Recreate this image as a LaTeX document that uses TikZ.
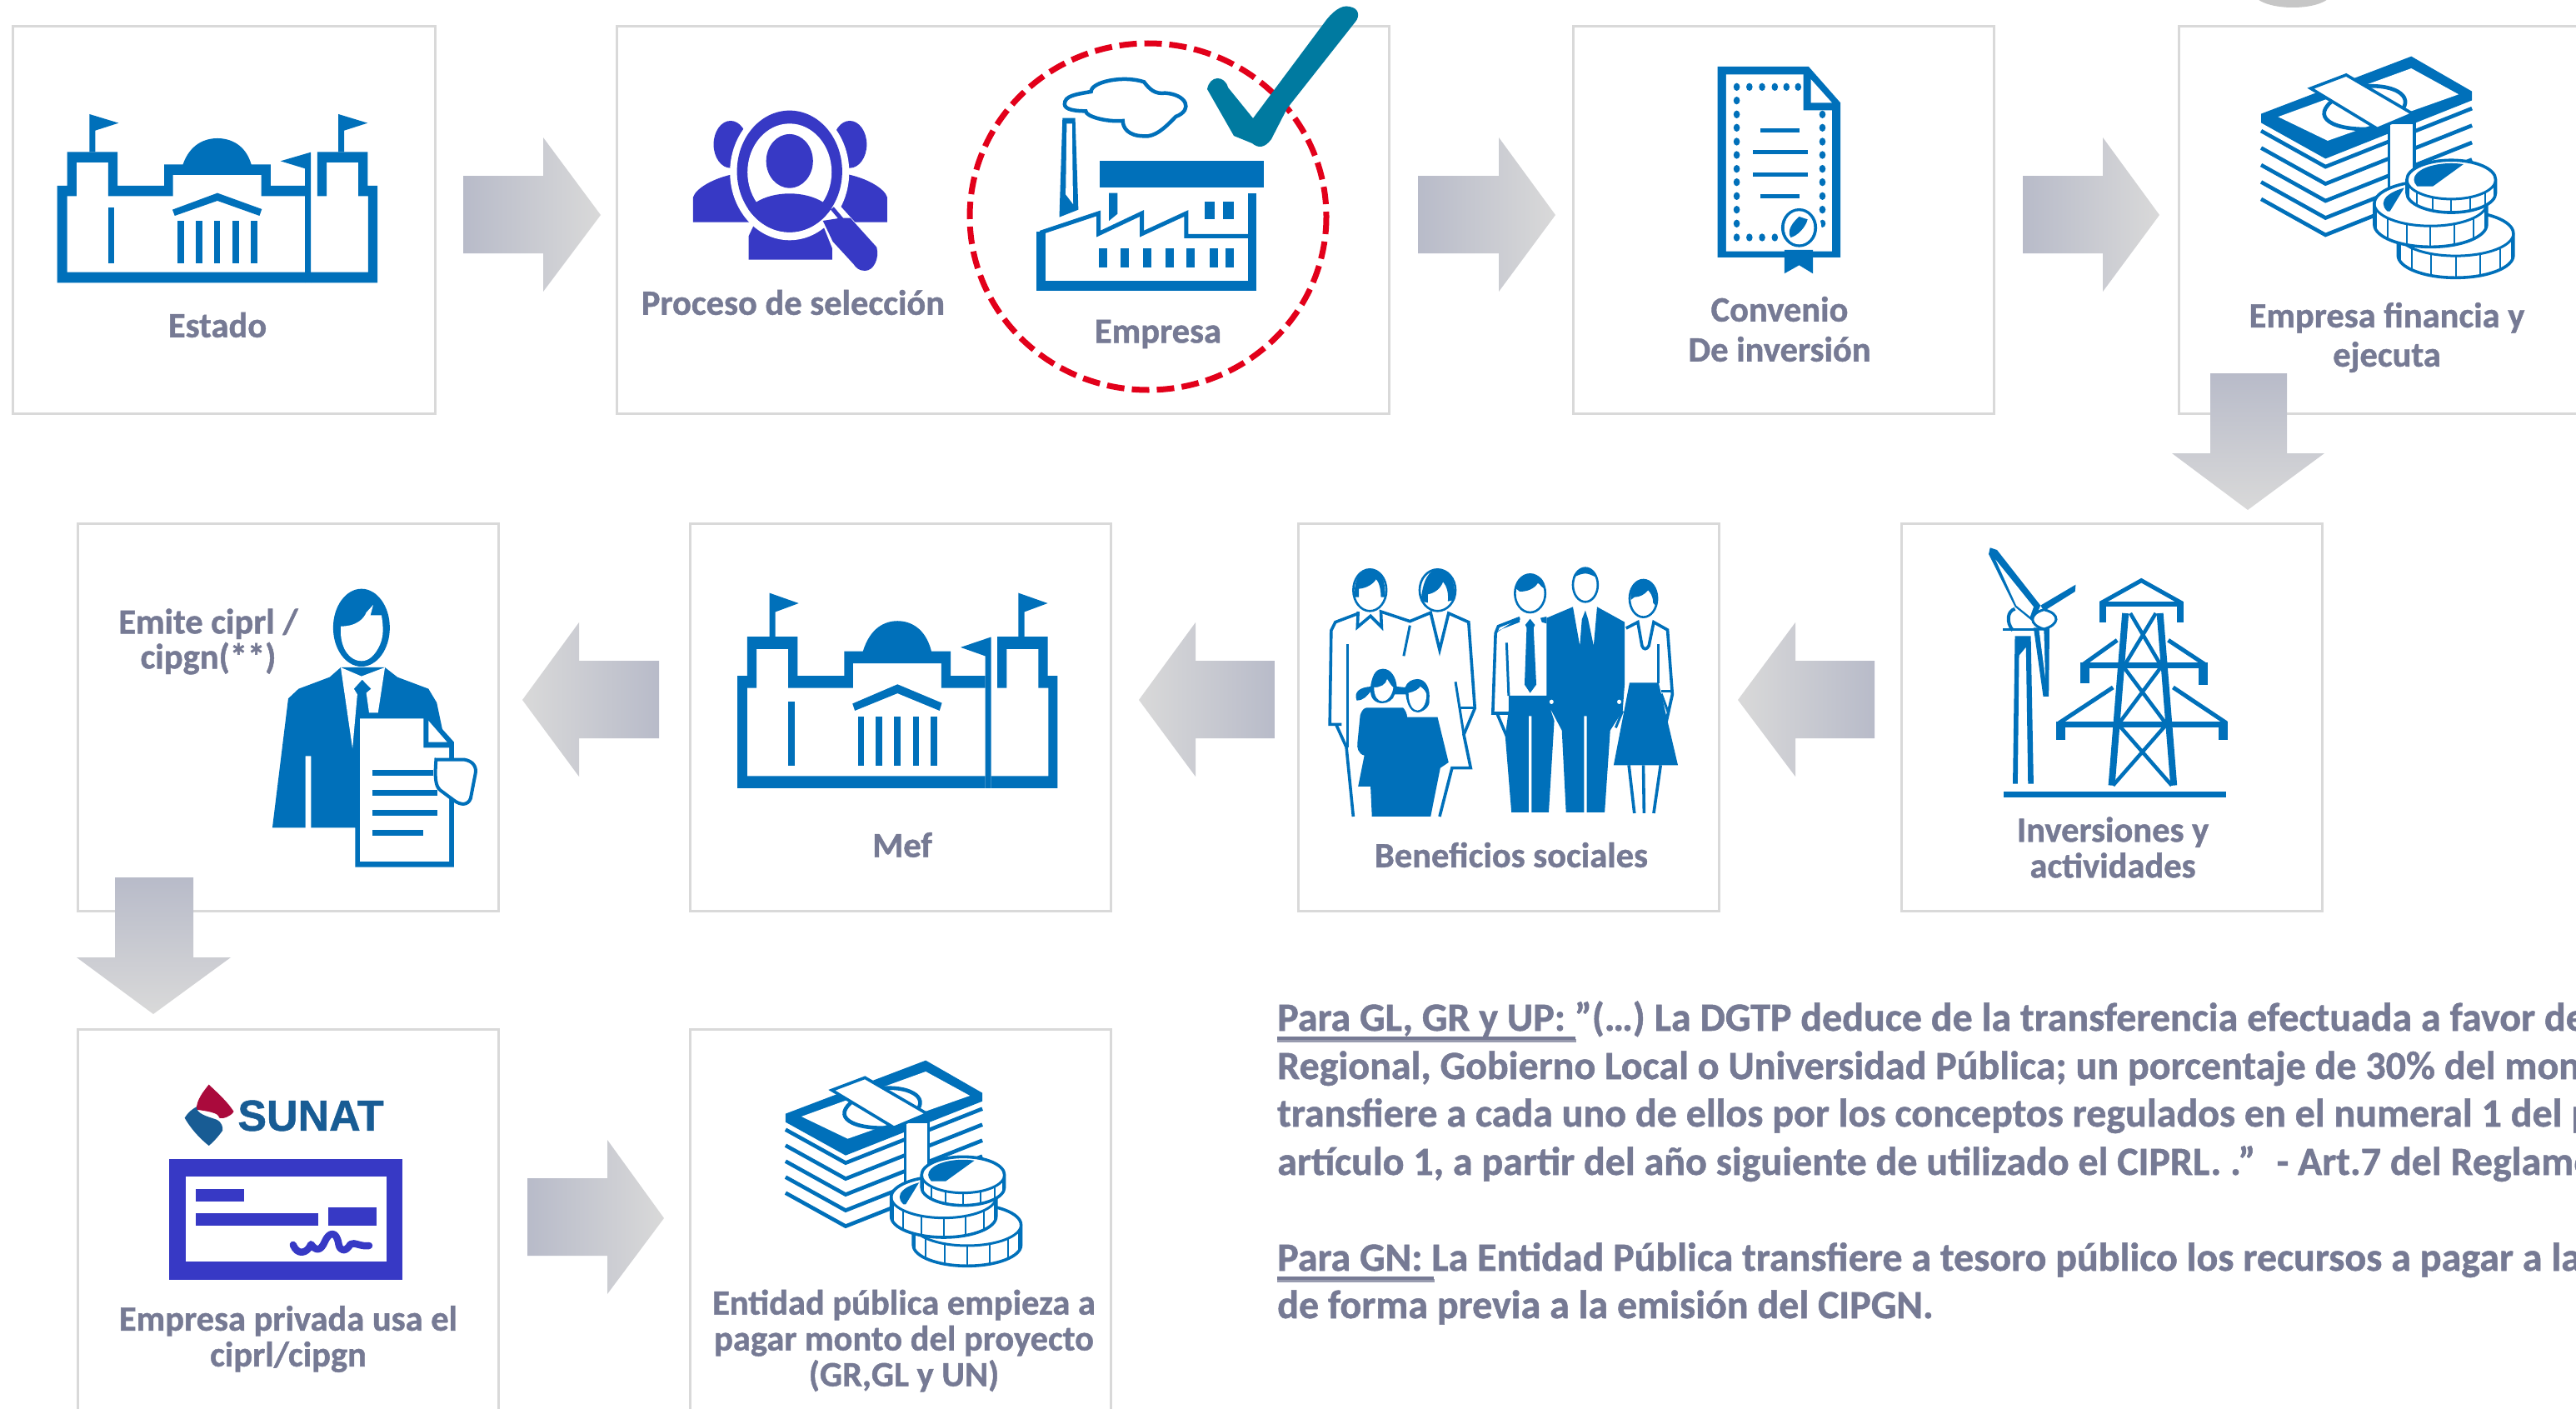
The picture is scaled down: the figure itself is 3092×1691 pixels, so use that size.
\documentclass[tikz,border=0pt]{standalone}
\usepackage{fontspec}
\setmainfont{Carlito}[BoldFeatures={FakeBold=1}]
\newfontfamily\logofont{Liberation Sans}[BoldFeatures={FakeBold=1}]
\usetikzlibrary{calc}
\definecolor{icon}{RGB}{0,112,186}
\definecolor{violetb}{RGB}{55,57,197}
\definecolor{txt}{RGB}{118,122,148}
\definecolor{gra}{RGB}{184,187,201}
\definecolor{grb}{RGB}{217,217,217}
\definecolor{boxl}{RGB}{217,217,217}
\definecolor{redd}{RGB}{226,0,26}
\definecolor{tick}{RGB}{0,122,160}
\definecolor{sunatb}{RGB}{24,92,148}
\definecolor{sunatr}{RGB}{170,10,60}
\tikzset{
  cardbox/.style={draw=boxl,line width=2.6pt,fill=white,inner sep=0pt,anchor=north west,minimum height=465pt},
  lab/.style={font=\fontsize{42.5}{43}\selectfont\bfseries,text=txt,align=center,inner sep=0pt},
  para/.style={font=\fontsize{48}{50}\selectfont\bfseries,text=txt,anchor=base west,inner sep=0pt},
  arR/.style={left color=gra,right color=grb},
  arL/.style={left color=grb,right color=gra},
  arD/.style={top color=gra,bottom color=grb},
  th/.style={line width=#1pt,draw=icon,line cap=butt,line join=miter}
}
\newcommand{\iconbuilding}{%
  \fill[icon] (98,1018)--(98,669)--(115,669)--(115,547)--(201,547)--(201,669)--(281,669)--(281,592)--(313,592)
    .. controls (325,520) and (350,498) .. (372,498) .. controls (394,498) and (420,520) .. (430,592)
    --(463,592)--(463,669)--(522,669)--(522,706)--(447,706)--(447,630)--(296,630)--(296,706)--(185,706)--(185,585)--(131,585)--(131,706)--(115,706)--(115,980)--(522,980)--(522,1018)--cycle;
  \fill[icon] (522,607)--(522,1018)--(532,1018)--(532,548)--(480,580)--cycle;
  \fill[icon] (532,1018)--(646,1018)--(646,669)--(629,669)--(629,547)--(543,547)--(543,706)--(559,706)--(559,585)--(613,585)--(613,706)--(630,706)--(630,980)--(532,980)--cycle;
  \fill[icon] (153,547)--(153,411)--(203,443)--(163,470)--(163,547)--cycle;
  \fill[icon] (579,547)--(579,411)--(629,443)--(589,470)--(589,547)--cycle;
  \fill[icon] (295,755)--(372,695)--(448,753)--(444,777)--(372,723)--(299,777)--cycle;
  \foreach \x in {304,335,366,398,429}{\fill[icon] (\x,795) rectangle ++(11,153);}
  \fill[icon] (185,748) rectangle (196,948);
}
\newcommand{\iconcoin}[7]{% cx cy rx ry h sectorx sectory
  \path[fill=white,draw=icon,line width=3.6pt] ({#1-#3},#2)--({#1-#3},{#2+#5}) arc[start angle=180,end angle=0,x radius=#3,y radius=#4]--({#1+#3},#2) arc[start angle=0,end angle=-180,x radius=#3,y radius=#4]--cycle;
  \draw[icon,line width=3pt] ({#1-#3},#2) arc[start angle=180,end angle=0,x radius=#3,y radius=#4];
  \foreach \a in {15,40,65,90,115,140,165}{\draw[icon,line width=2pt] ({#1+#3*cos(\a)},{#2+#4*sin(\a)+3}) -- ({#1+#3*cos(\a)},{#2+#5+#4*sin(\a)-3});}
  \begin{scope}
    \clip (#1,#2) ellipse[x radius={#3*0.84},y radius={#4*0.84}];
    \fill[icon] ({#1-#3},{#2-#4})--({#1+#6},{#2-#4})--({#1+#7},{#2+#4*0.35})--({#1-#3},{#2+#4*0.35})--cycle;
  \end{scope}
}
\newcommand{\iconmoney}{%
  \foreach \k in {1,...,5}{\draw[th=4.6] ($(1065,410)+(0,57*\k)$)--($(1152,530)+(0,57*\k)$)--($(1350,335)+(0,57*\k)$);}
  \fill[icon] (1065,410)--(1268,218)--(1350,335)--(1350,365)--(1152,560)--(1065,440)--cycle;
  \fill[white] (1088,420)--(1268,258)--(1332,345)--(1155,500)--cycle;
  \draw[th=4.6] (1165,360) .. controls (1130,420) and (1160,470) .. (1222,460);
  \draw[th=4.6] (1205,318) .. controls (1250,310) and (1275,360) .. (1250,410);
  \path[fill=white,draw=icon,line width=3.6pt] (1238,440) rectangle (1272,660);
  \path[fill=white,draw=icon,line width=3.6pt] (1132,325)--(1180,280)--(1270,410)--(1222,460)--cycle;
  \iconcoin{1328}{810}{78}{75}{73}{30}{-5}
  \iconcoin{1294}{710}{76}{75}{70}{-30}{-55}
  \iconcoin{1322}{630}{60}{65}{45}{24}{-25}
}
\begin{document}
\begin{tikzpicture}[x=1pt,y=-1pt]
\useasboundingbox (0,0) rectangle (3092,1691);
\clip (0,0) rectangle (3092,1691);
\fill[white] (0,0) rectangle (3092,1691);
% decorative spot at top edge
\fill[gray!45] (2752,-8) ellipse[x radius=46,y radius=17];
% cards
\node[cardbox,minimum width=507pt] (estado) at (14,30) {};
\node[cardbox,minimum width=927pt] (proceso) at (739,30) {};
\node[cardbox,minimum width=505pt] (convenio) at (1887,30) {};
\node[cardbox,minimum width=520pt] (financia) at (2614,30) {};
\node[cardbox,minimum width=505pt] (inversion) at (2281,627) {};
\node[cardbox,minimum width=505pt] (beneficios) at (1557,627) {};
\node[cardbox,minimum width=505pt] (mef) at (827,627) {};
\node[cardbox,minimum width=505pt] (emite) at (92,627) {};
\node[cardbox,minimum width=505pt] (sunat) at (92,1234) {};
\node[cardbox,minimum width=505pt] (entidad) at (827,1234) {};
% Estado building
\begin{scope}[xscale=0.7015,yscale=0.3333]\iconbuilding\end{scope}
% Mef building
\begin{scope}[shift={(816.3,553)},xscale=0.7015,yscale=0.386]\iconbuilding\end{scope}
% Search icon
\begin{scope}[xscale=0.7015,yscale=0.3333]
  \foreach \m in {0,1}{
    \begin{scope}[shift={(\m*2704,0)},xscale={1-2*\m}]
      \fill[violetb] (1250,520) ellipse[x radius=29,y radius=85];
      \fill[violetb] (1186,800)--(1186,710) .. controls (1190,680) and (1220,640) .. (1260,625)--(1300,625)--(1300,800)--cycle;
    \end{scope}}
  \fill[violetb] (1281,935)--(1281,850)--(1290,810)--(1415,810)--(1424,850)--(1424,935)--cycle;
  \fill[white] (1351,620) ellipse[x radius=102,y radius=245];
  \draw[white,line width=18pt] (1424,750)--(1480,880);
  \draw[white,line width=18pt] (1420,800)--(1440,905);
  \fill[violetb] (1351,617) ellipse[x radius=90,y radius=219];
  \fill[white] (1351,620) ellipse[x radius=72,y radius=175];
  \fill[violetb] (1351,580) ellipse[x radius=40,y radius=97];
  \begin{scope}
    \clip (1351,617) ellipse[x radius=90,y radius=219];
    \fill[violetb] (1351,800) ellipse[x radius=80,y radius=103];
  \end{scope}
  \draw[violetb,line width=5pt] (1424,750)--(1440,790);
  \fill[violetb] (1438,785)--(1455,785)--(1500,890) .. controls (1505,930) and (1495,975) .. (1480,975) .. controls (1470,975) and (1465,965) .. (1460,950)--(1425,870)--(1408,795)--cycle;
\end{scope}
% Factory
\begin{scope}[shift={(1100,0)},xscale=1.2704,yscale=0.3333]
  \fill[icon] (113,1010) rectangle (321,1047);
  \fill[icon] (113,833)--(122,833)--(122,1010)--(113,1010)--cycle;
  \fill[icon] (313,695) rectangle (321,1010);
  \draw[th=5,line join=miter] (117,838)--(172,768)--(172,842)--(213,768)--(213,842)--(255,768)--(255,850)--(315,850);
  \fill[icon] (173,578) rectangle (328,676);
  \fill[icon] (182,695)--(190,695)--(190,770)--(182,795)--cycle;
  \fill[icon] (272,725) rectangle (282,790);
  \fill[icon] (290,725) rectangle (300,790);
  \foreach \x in {172,193,214,235,255,277,292}{\fill[icon] (\x,895) rectangle ++(8,67);}
  \fill[icon] (138,425)--(150,425)--(153,755)--(135,782)--cycle;
  \fill[white] (142,445)--(147,445)--(148,735)--(141,700)--cycle;
  \path[fill=white,draw=icon,line width=4.5pt] (140,375) .. controls (140,345) and (150,340) .. (165,330) .. controls (165,295) and (195,270) .. (215,295) .. controls (220,320) and (225,340) .. (235,335) .. controls (255,340) and (262,395) .. (245,420) .. controls (235,460) and (225,495) .. (215,490) .. controls (200,490) and (195,460) .. (195,435) .. controls (180,440) and (160,420) .. (160,400) .. controls (150,400) and (140,395) .. (140,375) -- cycle;
\end{scope}
% Certificate
\begin{scope}[shift={(1100,0)},xscale=1.2704,yscale=0.3333]
  \fill[icon] (757,240)--(843,240)--(873,370)--(873,927)--(757,927)--cycle;
  \fill[white] (765,268)--(838,268)--(838,397)--(865,397)--(865,905)--(765,905)--cycle;
  \fill[white] (845,285)--(865,370)--(845,370)--cycle;
  \foreach \x in {775,787,799,811,822,833}{\fill[icon] (\x,313) ellipse[x radius=3,y radius=14];}
  \foreach \x in {775,787,799,811}{\fill[icon] (\x,855) ellipse[x radius=3,y radius=14];}
  \foreach \y in {362,412,460,510,558,608,656,706,755,805}{\fill[icon] (775,\y) ellipse[x radius=3,y radius=14];}
  \foreach \y in {412,460,510,558,608,656,706,755,805}{\fill[icon] (856,\y) ellipse[x radius=3,y radius=14];}
  \fill[icon] (797,462) rectangle (834,478);
  \fill[icon] (790,541) rectangle (842,556);
  \fill[icon] (790,620) rectangle (842,635);
  \fill[icon] (797,699) rectangle (834,714);
  \fill[white] (834,820) ellipse[x radius=21,y radius=80];
  \fill[icon] (834,820) ellipse[x radius=17,y radius=70];
  \fill[white] (834,820) ellipse[x radius=14,y radius=60];
  \fill[icon] (834,780)--(842,790) .. controls (840,820) and (832,850) .. (826,855) .. controls (822,830) and (828,800) .. (834,780)--cycle;
  \fill[icon] (820,900)--(847,900)--(847,985)--(834,955)--(820,985)--cycle;
\end{scope}
% Money
\begin{scope}[shift={(1768.3,-10.6)},xscale=0.888,yscale=0.359]\iconmoney\end{scope}
\begin{scope}[shift={(60,1200)},xscale=0.829,yscale=0.3333]\iconmoney\end{scope}
% Pylon and turbine
\begin{scope}[shift={(1500,600)},xscale=0.829,yscale=0.3333]
  \fill[icon] (1108,490)--(1131,490)--(1135,1022)--(1127,1022)--(1124,530)--(1114,560)--(1112,1022)--(1105,1022)--cycle;
  \draw[th=4] (1105,470) .. controls (1095,440) and (1097,400) .. (1108,392);
  \fill[icon] (1090,462) rectangle (1145,470);
  \fill[icon] (1072,172)--(1082,180)--(1145,380)--(1135,440)--(1108,385)--(1070,195)--cycle;
  \fill[white] (1080,215)--(1135,385)--(1130,420)--(1110,380)--cycle;
  \fill[icon] (1196,305)--(1195,330)--(1150,400)--(1145,380)--cycle;
  \fill[icon] (1135,460)--(1158,460)--(1157,708)--(1149,708)--cycle;
  \fill[white] (1143,470)--(1150,470)--(1152,640)--cycle;
  \path[fill=white,draw=icon,line width=3pt] (1150,395) .. controls (1175,410) and (1172,450) .. (1150,465) .. controls (1128,450) and (1128,410) .. (1150,395)--cycle;
  \fill[icon] (1092,1050) rectangle (1414,1070);
  \draw[th=5,line join=miter] (1232,372)--(1291,290)--(1350,372);
  \fill[icon] (1230,365) rectangle (1352,385);
  \fill[icon] (1230,365) rectangle (1240,442);
  \fill[icon] (1342,365) rectangle (1352,442);
  \draw[th=8] (1268,408)--(1248,1028);
  \draw[th=8] (1318,408)--(1338,1028);
  \draw[th=4.5] (1275,408)--(1318,590) (1312,408)--(1268,590);
  \draw[th=4.5] (1265,600)--(1325,800) (1320,600)--(1260,800);
  \draw[th=4.5] (1260,815)--(1335,1028) (1325,815)--(1250,1028);
  \fill[icon] (1203,585) rectangle (1387,605);
  \draw[th=5] (1256,505)--(1207,592) (1330,505)--(1383,592);
  \fill[icon] (1203,595) rectangle (1216,660);
  \fill[icon] (1374,595) rectangle (1387,665);
  \fill[icon] (1168,798) rectangle (1416,818);
  \draw[th=5] (1250,675)--(1172,803) (1337,675)--(1414,803);
  \fill[icon] (1168,800) rectangle (1181,865);
  \fill[icon] (1403,800) rectangle (1416,865);
\end{scope}
% Family
\begin{scope}[shift={(1500,600)},xscale=0.829,yscale=0.3333]
  \draw[th=3.6] (158,408)--(124,440)--(118,470)--(116,808)--(133,808);
  \draw[th=3.6] (125,808)--(140,890)--(150,1140);
  \draw[th=3] (142,520)--(142,890);
  \draw[th=3.6] (157,402)--(156,458)--(175,418)--(191,458)--(190,402)--(232,437)--(262,406)--(275,540)--(288,408)--(317,440)--(326,750)--(310,845)--(320,965)--(293,965)--(275,1140);
  \draw[th=3] (232,452)--(223,562);
  \draw[th=3] (298,655)--(310,845);
  \draw[th=3] (305,750)--(325,750);
  \foreach \c/\r/\s/\e in {174/24/250/400,272/26/250/400,406/22/268/405,486/18/245/367,570/20/288/422}{
    \pgfmathsetmacro{\my}{(\s+\e)/2}
    \pgfmathsetmacro{\ry}{(\e-\s)/2}
    \path[fill=white,draw=icon,line width=2.6pt] (\c,\my) ellipse[x radius=\r,y radius=\ry];
  }
  \fill[icon] (152,350) .. controls (150,290) and (160,248) .. (175,248) .. controls (190,248) and (197,290) .. (196,350)--(190,350) .. controls (190,320) and (187,295) .. (183,285) .. controls (180,300) and (170,318) .. (158,320)--(158,350)--cycle;
  \fill[icon] (248,365) .. controls (250,290) and (260,250) .. (272,250) .. controls (290,250) and (298,290) .. (297,360)--(287,365) .. controls (288,330) and (285,310) .. (280,295) .. controls (276,320) and (268,335) .. (258,340)--(258,370)--cycle;
  \fill[icon] (386,320) .. controls (385,285) and (395,268) .. (408,268) .. controls (420,270) and (428,290) .. (427,320) .. controls (420,310) and (420,300) .. (417,300) .. controls (412,320) and (402,330) .. (391,330)--cycle;
  \fill[icon] (468,280) .. controls (472,252) and (480,245) .. (486,245) .. controls (495,245) and (500,260) .. (503,280) .. controls (495,270) and (490,265) .. (486,265) .. controls (482,265) and (475,270) .. (468,280)--cycle;
  \fill[icon] (552,360) .. controls (550,310) and (560,288) .. (570,288) .. controls (582,288) and (590,310) .. (589,385)--(584,370) .. controls (584,345) and (580,335) .. (577,325) .. controls (572,340) and (565,350) .. (557,350)--cycle;
  \fill[icon] (155,722) .. controls (150,690) and (160,675) .. (175,672) .. controls (178,620) and (185,608) .. (193,608) .. controls (205,608) and (212,640) .. (213,672)--(225,675) .. controls (228,655) and (235,645) .. (243,645) .. controls (255,645) and (262,680) .. (260,720) .. controls (262,745) and (250,765) .. (243,765) .. controls (235,765) and (228,745) .. (226,700)--(210,700) .. controls (208,720) and (200,732) .. (192,732) .. controls (182,732) and (175,715) .. (175,690) .. controls (170,705) and (165,722) .. (155,722)--cycle;
  \fill[white] (180,675) .. controls (190,675) and (197,665) .. (199,645) .. controls (203,660) and (205,670) .. (208,675) .. controls (206,710) and (198,725) .. (192,725) .. controls (185,725) and (180,705) .. (180,675)--cycle;
  \fill[white] (230,695) .. controls (240,690) and (245,680) .. (247,672) .. controls (252,680) and (255,690) .. (256,700) .. controls (256,740) and (248,758) .. (243,758) .. controls (236,758) and (230,735) .. (230,695)--cycle;
  \fill[icon] (160,775) .. controls (162,760) and (165,748) .. (170,748)--(222,748) .. controls (225,755) and (228,770) .. (228,782)--(272,782)--(288,945)--(276,965)--(262,1140)--(177,1140)--(175,1032)--(157,1032)--(166,920) .. controls (157,915) and (155,890) .. (156,875)--cycle;
  \draw[th=3.6] (391,425)--(360,455)--(356,480)--(352,768)--(375,768);
  \draw[th=3.6] (358,768)--(372,850);
  \draw[th=3] (372,514)--(375,705);
  \fill[icon] (391,422)--(391,440)--(362,468)--(356,480)--cycle;
  \fill[icon] (406,428)--(413,450)--(411,460)--(415,665)--(406,695)--(398,665)--(401,460)--(399,450)--cycle;
  \fill[icon] (468,385)--(430,425)--(430,705)--(375,705)--(375,755)--(370,850)--(379,1125)--(404,1125)--(404,778)--(408,778)--(408,1125)--(433,1125)--(441,795)--(435,750)--(452,830)--(458,1125)--(484,1125)--(484,778)--(488,778)--(488,1125)--(514,1125)--(522,830)--(540,760)--(543,660)--(543,440)--(503,385)--(498,525)--(490,430)--(486,398)--(481,430)--(478,525)--cycle;
  \fill[icon] (421,425)--(430,420)--(430,445)--(423,440)--cycle;
  \fill[white] (437,727) ellipse[x radius=3,y radius=8];
  \fill[white] (535,727) ellipse[x radius=3,y radius=8];
  \fill[white] (365,730) ellipse[x radius=3,y radius=6];
  \draw[th=3] (530,820)--(540,760);
  \draw[th=3.6] (545,462)--(562,440)--(568,525) .. controls (570,540) and (575,540) .. (578,525)--(585,440)--(605,468)--(612,700)--(600,835);
  \draw[th=3] (592,520)--(592,660);
  \draw[th=3] (596,688)--(610,688);
  \draw[th=3] (596,698)--(606,765);
  \fill[icon] (550,658)--(592,658)--(620,955)--(527,955)--cycle;
  \draw[th=3.6] (549,955)--(557,1128) (570,955)--(571,1128) (595,955)--(585,1128);
\end{scope}
% Emite figure
\begin{scope}[shift={(60,620)},xscale=0.829,yscale=0.3333]
  \fill[icon] (451,400) ellipse[x radius=41,y radius=140];
  \fill[white] (421,395) .. controls (445,395) and (455,365) .. (458,345)--(468,318)--(464,355)--(480,355) .. controls (483,400) and (483,430) .. (478,460) .. controls (470,505) and (460,520) .. (451,520) .. controls (435,520) and (422,480) .. (421,420)--cycle;
  \fill[icon] (421,543)--(405,578)--(360,620)--(345,655)--(322,1120)--(370,1120)--(370,862)--(378,862)--(378,1120)--(442,1120)--(442,1262)--(585,1262)--(585,812)--(568,765)--(560,670)--(548,620)--(503,578)--(485,543)--cycle;
  \fill[white] (421,543)--(438,835)--(445,640)--(440,620)--(452,587)--(465,620)--(458,635)--(462,706)--(475,706)--(485,543)--(451,575)--cycle;
  \fill[white] (449,727)--(541,727)--(541,832)--(578,832)--(578,1242)--(449,1242)--cycle;
  \fill[white] (548,735)--(575,812)--(548,812)--cycle;
  \foreach \a/\b/\c in {467/555/912,467/561/985,467/561/1057,467/540/1128}{\fill[icon] (\a,\c) rectangle (\b,\c+20);}
  \path[fill=white,draw=icon,line width=4pt] (559,875)--(600,875) .. controls (612,880) and (618,900) .. (616,925)--(609,1015) .. controls (605,1040) and (595,1040) .. (585,1022)--(565,985) .. controls (558,970) and (557,940) .. cycle;
\end{scope}
% SUNAT logo and cheque
\begin{scope}[shift={(60,1200)},xscale=0.829,yscale=0.3333]
  \fill[sunatr] (230,305) .. controls (245,340) and (258,370) .. (266,402) .. controls (262,420) and (250,430) .. (245,425) .. controls (245,405) and (225,400) .. (212,395) .. controls (212,360) and (222,330) .. (230,305)--cycle;
  \fill[sunatb] (195,425) .. controls (200,405) and (205,395) .. (212,385) .. controls (212,410) and (228,420) .. (240,430) .. controls (250,440) and (250,460) .. (250,470) .. controls (243,495) and (235,515) .. (230,525) .. controls (215,495) and (203,460) .. (195,425)--cycle;
  \fill[violetb] (173,573) rectangle (510,1008);
  \fill[white] (197,637) rectangle (487,942);
  \fill[violetb] (211,681) rectangle (281,725);
  \fill[violetb] (211,768) rectangle (388,812);
  \fill[violetb] (403,747) rectangle (473,812);
  \draw[violetb,line width=8.5pt,line cap=round,line join=round] (352,882) .. controls (358,920) and (372,915) .. (378,880) .. controls (385,905) and (392,905) .. (398,870) .. controls (404,835) and (415,830) .. (418,880) .. controls (420,905) and (428,910) .. (435,880) .. controls (440,870) and (450,890) .. (462,885);
\end{scope}
\node[font=\logofont\fontsize{52}{52}\selectfont\bfseries,text=sunatb,inner sep=0pt] (sunatlogo) at (373,1339) {SUNAT};
% Block arrows
\shade[arR] (556,211)--(652,211)--(652,165)--(721,258)--(652,350)--(652,304)--(556,304)--cycle;
\shade[arR] (1702,211)--(1799,211)--(1799,165)--(1867,258)--(1799,350)--(1799,304)--(1702,304)--cycle;
\shade[arR] (2428,211)--(2524,211)--(2524,165)--(2592,258)--(2524,350)--(2524,304)--(2428,304)--cycle;
\shade[arD] (2653,448)--(2745,448)--(2745,544)--(2790,544)--(2698,612)--(2607,544)--(2653,544)--cycle;
\shade[arL] (2250,793)--(2155,793)--(2155,747)--(2086,840)--(2155,932)--(2155,886)--(2250,886)--cycle;
\shade[arL] (1530,793)--(1435,793)--(1435,747)--(1367,840)--(1435,932)--(1435,886)--(1530,886)--cycle;
\shade[arL] (791,793)--(695,793)--(695,747)--(627,840)--(695,932)--(695,886)--(791,886)--cycle;
\shade[arD] (138,1053)--(232,1053)--(232,1149)--(277,1149)--(184,1217)--(92,1149)--(138,1149)--cycle;
\shade[arR] (633,1414)--(729,1414)--(729,1368)--(797,1462)--(729,1553)--(729,1507)--(633,1507)--cycle;
% Dashed ring and tick
\draw[redd,line width=7pt,dash pattern=on 21pt off 9pt] (1378,260) ellipse[x radius=214,y radius=208];
\fill[tick] (1449,107) .. controls (1452,90) and (1470,90) .. (1474,105)--(1504,142)--(1589,28) .. controls (1598,15) and (1610,5) .. (1620,8) .. controls (1632,10) and (1632,20) .. (1627,26)--(1545,130)--(1526,167) .. controls (1518,178) and (1510,178) .. (1503,172)--(1481,163)--cycle;
% Labels
\node[lab] (t1) at (261,390) {Estado};
\node[lab] (t2) at (952,363) {Proceso de selección};
\node[lab] (t3) at (1390,401) {Empresa};
\node[lab,font=\fontsize{42.5}{48}\selectfont\bfseries] (t4) at (2136,395) {Convenio\\De inversión};
\node[lab,font=\fontsize{42.5}{47}\selectfont\bfseries] (t5) at (2865,405) {Empresa financia y\\ejecuta};
\node[lab,font=\fontsize{42.5}{43}\selectfont\bfseries] (t6) at (2536,1017) {Inversiones y\\actividades};
\node[lab] (t7) at (1814,1026) {Beneficios sociales};
\node[lab] (t8) at (1083,1014) {Mef};
\node[lab,font=\fontsize{42.5}{42}\selectfont\bfseries] (t9) at (250,770) {Emite ciprl /\\cipgn(**)};
\node[lab] (t10) at (346,1607) {Empresa privada usa el\\ciprl/cipgn};
\node[lab] (t11) at (1085,1609) {Entidad pública empieza a\\pagar monto del proyecto\\(GR,GL y UN)};
% Paragraphs
\node[para] (p1) at (1533,1237) {Para GL, GR y UP: ”(…) La DGTP deduce de la transferencia efectuada a favor de};
\node[para] (p2) at (1533,1295) {Regional, Gobierno Local o Universidad Pública; un porcentaje de 30\% del mon};
\node[para] (p3) at (1533,1352) {transfiere a cada uno de ellos por los conceptos regulados en el numeral 1 del p};
\node[para] (p4) at (1533,1410) {artículo 1, a partir del año siguiente de utilizado el CIPRL. .”~ - Art.7 del Reglame};
\node[para] (p5) at (1533,1525) {Para GN: La Entidad Pública transfiere a tesoro público los recursos a pagar a la};
\node[para] (p6) at (1533,1582) {de forma previa a la emisión del CIPGN.};
\fill[txt!75] (1533,1247) rectangle (1892,1251);
\fill[txt] (1533,1244) rectangle (1891,1248);
\fill[txt!75] (1533,1535) rectangle (1722,1539);
\fill[txt] (1533,1532) rectangle (1721,1536);
\end{tikzpicture}
\end{document}
